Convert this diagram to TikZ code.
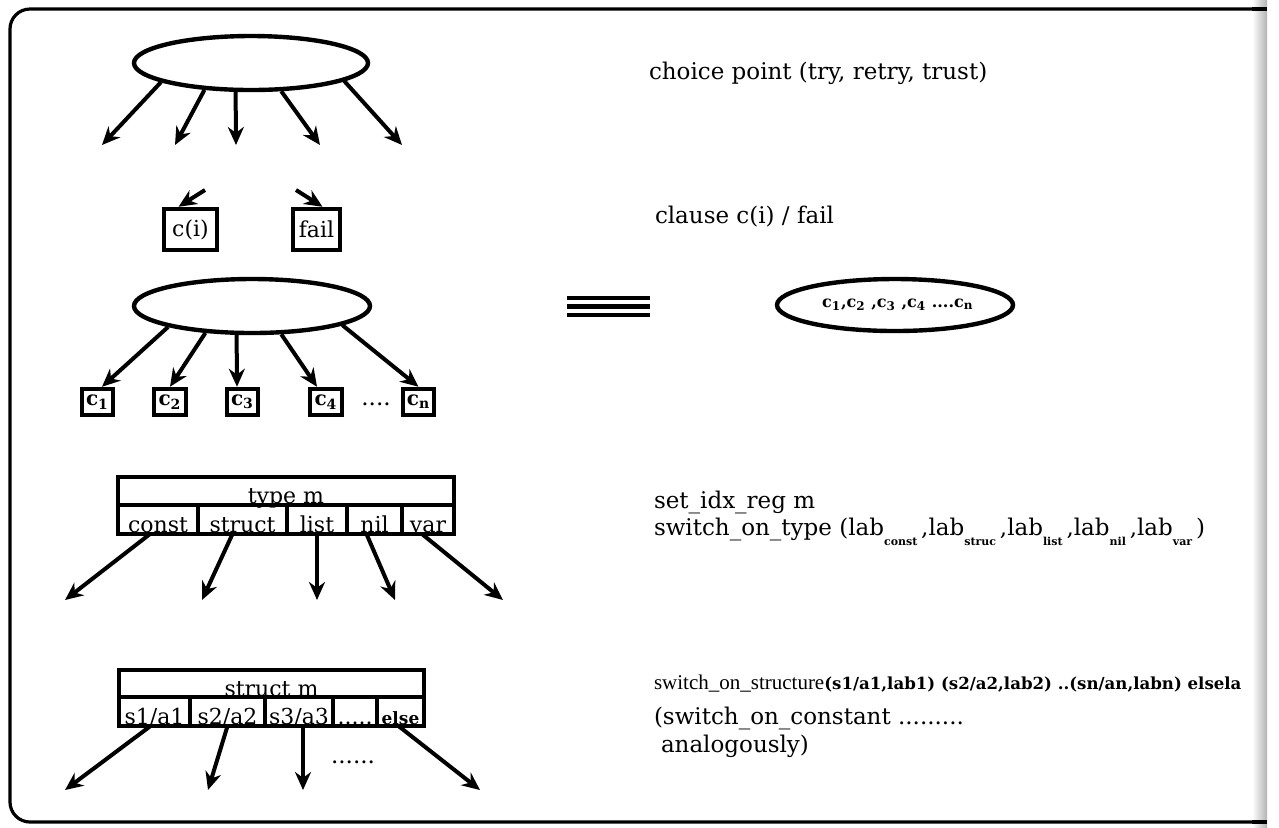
\documentclass[tikz,border=0pt]{standalone}
\usepackage{fontspec}
\setmainfont{DejaVu Serif}
\newfontfamily\narrowfont{Liberation Serif}
\usetikzlibrary{arrows.meta,positioning,shapes.geometric}
\newcommand\labsub[1]{\raisebox{-0.45em}{\fontsize{5.5}{6}\selectfont\bfseries #1}}

\begin{document}
\begin{tikzpicture}[x=0.5pt,y=-0.5pt,>={Stealth[length=9pt,width=8pt]},line width=2pt,
                    font=\fontsize{11.5}{14}\selectfont,
                    choice/.style={ellipse,draw,line width=2.2pt,inner sep=0pt,minimum width=117pt,minimum height=27pt},
                    clause/.style={draw,inner sep=0pt,minimum height=20.75pt,font=\fontsize{11}{13}\selectfont},
                    cbox/.style={draw,inner sep=0pt,minimum width=15.75pt,minimum height=13.25pt,
                                 font=\fontsize{10}{11}\selectfont\bfseries},
                    cell/.style={draw,line width=1.75pt,inner sep=0pt,outer sep=0pt,minimum height=14.5pt,
                                 text height=12.5pt,text depth=0pt,font=\fontsize{11}{12}\selectfont},
                    note/.style={anchor=west,inner sep=0pt}]

  \useasboundingbox (0,0) rectangle (1279,827);
  \draw[line width=1.6pt,rounded corners=10pt] (1266,9) -- (10,9) -- (10,822) -- (1266,822);

  % choice point and its alternatives
  \node[choice] (cp) at (251,63) {};
  \coordinate (t1) at (102,145);
  \coordinate (t2) at (175,145);
  \coordinate (t3) at (236,145);
  \coordinate (t4) at (320,145);
  \coordinate (t5) at (402,145);
  \path[->] (cp.-168.8) edge (t1)
            (cp.-150.7) edge (t2)
            (cp.-118.4) edge (t3)
            (cp.-43.2)  edge (t4)
            (cp.-11.8)  edge (t5);

  % clause / fail
  \node[clause,minimum width=26.75pt] (ci) at (190.5,229.5) {c(i)};
  \node[clause,minimum width=23.75pt] (fail) at (316.5,229.5) {fail};
  \coordinate (ciin) at (205,190);
  \coordinate (failin) at (296,190);
  \path[->] (ciin) edge ([xshift=-6pt]ci.north)
            (failin) edge ([xshift=3pt]fail.north);

  % choice point over clauses c1 .. cn
  \node[choice,minimum width=118pt] (cps) at (252,306) {};
  \node[cbox] (c1) at (97.5,402) {c\textsubscript{1}};
  \node[cbox] (c2) at (170,402) {c\textsubscript{2}};
  \node[cbox] (c3) at (242.5,402) {c\textsubscript{3}};
  \node[cbox] (c4) at (326,402) {c\textsubscript{4}};
  \node[cbox] (cn) at (418.5,402) {c\textsubscript{n}};
  \node[inner sep=0pt] (cdots) at (376,404) {....};
  \path[->] (cps.-166.9) edge ([xshift=2.25pt]c1.north)
            (cps.-150)   edge (c2.north)
            (cps.-118.4) edge ([xshift=-2.75pt]c3.north)
            (cps.-44.2)  edge ([xshift=-4.5pt]c4.north)
            (cps.-12.2)  edge (cn.north);

  \foreach \y in {298,306.5,315}
    \draw[line width=2.4pt] (567,\y) -- (650,\y);

  \node[choice,minimum width=118pt,minimum height=26pt,font=\fontsize{8}{9}\selectfont\bfseries] (cpc) at (895,305)
    {\ c\textsubscript{1},c\textsubscript{2} ,c\textsubscript{3} ,c\textsubscript{4} ....c\textsubscript{n}};

  % switch on type
  \node[cell,minimum width=168pt,minimum height=14pt,anchor=north west] (type) at (118,477) {type m};
  \node[cell,minimum width=40pt,anchor=north west] (const) at (type.south west) {const};
  \node[cell,minimum width=44.5pt,right=0pt of const] (struct) {struct};
  \node[cell,minimum width=30pt,right=0pt of struct] (list) {list};
  \node[cell,minimum width=27.5pt,right=0pt of list] (nil) {nil};
  \node[cell,minimum width=26pt,right=0pt of nil] (var) {var};
  \coordinate (u1) at (65,600);
  \coordinate (u2) at (202,600);
  \coordinate (u3) at (317,600);
  \coordinate (u4) at (395,600);
  \coordinate (u5) at (503,600);
  \path[->] ([xshift=-4pt]const.south) edge (u1)
            ([xshift=-5pt]struct.south) edge (u2)
            (list.south) edge (u3)
            ([xshift=-4pt]nil.south) edge (u4)
            ([xshift=-3pt]var.south) edge (u5);

  % switch on structure
  \node[cell,minimum width=152.5pt,minimum height=13.5pt,anchor=north west] (smain) at (119,670) {struct m};
  \node[cell,minimum width=35.5pt,anchor=north west] (s1) at (smain.south west) {s1/a1};
  \node[cell,minimum width=37.5pt,right=0pt of s1] (s2) {s2/a2};
  \node[cell,minimum width=34pt,right=0pt of s2] (s3) {s3/a3};
  \node[cell,minimum width=22pt,right=0pt of s3] (sdots) {.....};
  \node[cell,minimum width=23.5pt,right=0pt of sdots,font=\fontsize{8.5}{10}\selectfont\bfseries] (selse) {else};
  \coordinate (v1) at (65,790);
  \coordinate (v2) at (208,790);
  \coordinate (v3) at (303,790);
  \coordinate (v4) at (480,790);
  \node[inner sep=0pt] (vdots) at (353,762) {......};
  \path[->] ([xshift=-2pt]s1.south) edge (v1)
            (s2.south) edge (v2)
            ([xshift=2pt]s3.south) edge (v3)
            ([xshift=-1pt]selse.south) edge (v4);

  % instructions
  \node[note] (ncp) at (647,73) {choice point (try, retry, trust)};
  \node[note] (ncl) at (653,217) {clause c(i) / fail};
  \node[note] (nidx) at (652,502) {set\_idx\_reg m};
  \node[note] (ntype) at (652,532) {switch\_on\_type (lab\labsub{const}\,,lab\labsub{struc}\,,lab\labsub{list}\,,lab\labsub{nil}\,,lab\labsub{var}\,)};
  \node[note] (nstr) at (652,684) {{\narrowfont\fontsize{10.5}{12}\selectfont switch\_on\_structure}{\fontsize{8.3}{10}\selectfont\bfseries(s1/a1,lab1) (s2/a2,lab2) ..(sn/an,labn) elsela}};
  \node[note] (ncon) at (652,718) {(switch\_on\_constant .........};
  \node[note] (nana) at (659,746) {analogously)};

  \shade[left color=white,right color=gray!60] (1252,0) rectangle (1267,827);
  \draw[line width=1.6pt] (1252,9) -- (1267,9) (1252,822) -- (1267,822);
\end{tikzpicture}
\end{document}
